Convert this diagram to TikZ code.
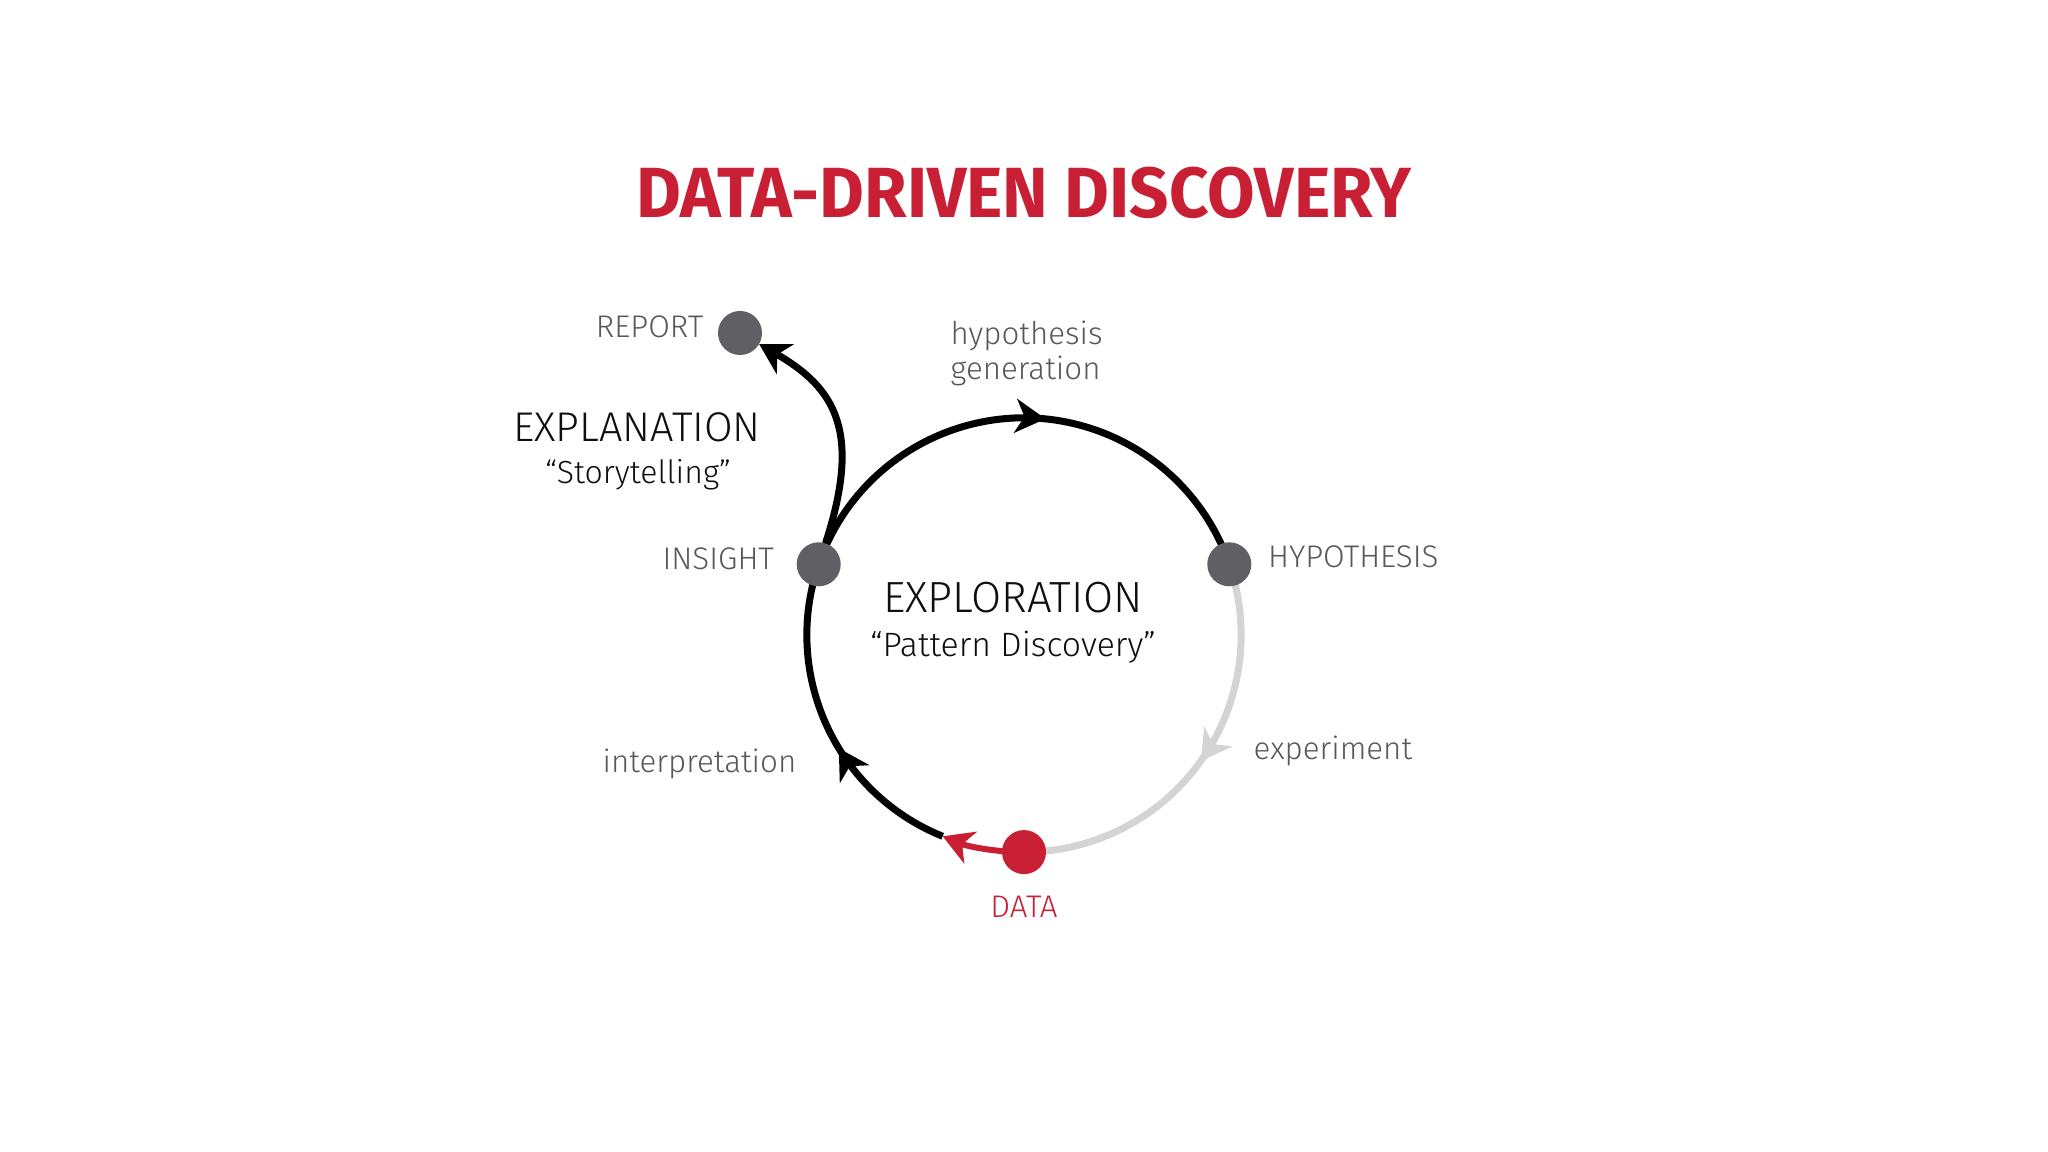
\documentclass[tikz,border=0pt]{standalone}
\usepackage{fontspec}
\usepackage{graphicx}
\setmainfont{Fira Sans Light}
\newfontfamily\titlefont{Fira Sans}
\usepackage{tikz}
\usetikzlibrary{positioning,arrows.meta,decorations.markings,backgrounds}

\definecolor{ddred}{RGB}{200,31,52}
\definecolor{dotgray}{RGB}{96,95,99}
\definecolor{txtgray}{RGB}{88,88,92}
\definecolor{arcgray}{RGB}{212,212,214}
\definecolor{inkblack}{RGB}{15,15,15}

\tikzset{
    dot/.style={circle, fill=dotgray, minimum size=0.44cm, inner sep=0pt, outer sep=0pt},
    cyc/.style={line width=0.07cm},
    cyctip/.tip={Stealth[length=0.3cm, width=0.34cm, inset=0.09cm]},
    midtip/.style={postaction={decorate, decoration={markings,
        mark=at position #1 with {\arrow{cyctip}}}}},
    lbl/.style={text=txtgray, inner sep=0pt, font=\fontsize{8.9}{10}\selectfont},
    head/.style={text=inkblack, inner sep=0pt, font=\fontsize{12.4}{14}\selectfont},
    sub/.style={text=inkblack, inner sep=0pt, font=\fontsize{9.6}{12}\selectfont},
    title/.style={text=ddred, inner sep=0pt, font=\titlefont\bfseries\fontsize{20.2}{24}\selectfont}
}

\begin{document}
\begin{tikzpicture}[x=0.01cm, y=0.01cm]
    \useasboundingbox (0,0) rectangle (2048,1152);

    % title
    \node[title] (title) at (1024,959) {\scalebox{0.97}[1]{DATA-DRIVEN DISCOVERY}};

    % the cycle
    \coordinate (c) at (1024,517);
    \node[dot] (insight) at ([shift={(161:2.17cm)}]c) {};
    \node[dot] (hypothesis) at ([shift={(19:2.17cm)}]c) {};
    \node[dot, fill=ddred] (data) at ([shift={(-90:2.17cm)}]c) {};
    \coordinate (itip) at ([shift={(-112:2.17cm)}]c);
    \node[dot] (report) at (740,819) {};

    \begin{scope}[on background layer]
        \draw[cyc, color=arcgray, midtip=0.5] (hypothesis.center) arc[start angle=19, end angle=-90, radius=2.17cm];
        \draw[cyc, color=black, midtip=0.42] (itip) arc[start angle=-112, end angle=-199, radius=2.17cm];
        \draw[cyc, color=black, midtip=0.54] (insight.center) arc[start angle=161, end angle=19, radius=2.17cm];
        \draw[line width=0.06cm, color=ddred, -{cyctip}] (data.center) arc[start angle=-90, end angle=-112, radius=2.17cm];
    \end{scope}
    \draw[cyc, -{cyctip}] (insight) .. controls +(72:1.4cm) and +(-30:1.1cm) .. (report);

    % labels
    \node[lbl, left=0.14cm of report, yshift=0.06cm] (reportlbl) {REPORT};
    \node[lbl, left=0.22cm of insight, yshift=0.06cm] (insightlbl) {INSIGHT};
    \node[lbl, right=0.16cm of hypothesis, yshift=0.08cm] (hyplbl) {HYPOTHESIS};
    \node[lbl, text=ddred, below=0.21cm of data] (datalbl) {DATA};
    \node[lbl, anchor=base west] (exptlbl) at (1253,392) {experiment};
    \node[lbl, anchor=base east] (interplbl) at (797,379) {interpretation};
    \node[lbl, anchor=north west, align=left] (genlbl) at (950,832) {hypothesis\\generation};

    \node[head] (explore) at (1013,554) {EXPLORATION};
    \node[sub, anchor=base] (pattern) at (1013,495) {“Pattern Discovery”};
    \node[head, font=\fontsize{11.8}{14}\selectfont] (explain) at (637,725) {EXPLANATION};
    \node[sub, font=\fontsize{9.1}{11}\selectfont, anchor=base] (story) at (638,668) {“Storytelling”};
\end{tikzpicture}
\end{document}
